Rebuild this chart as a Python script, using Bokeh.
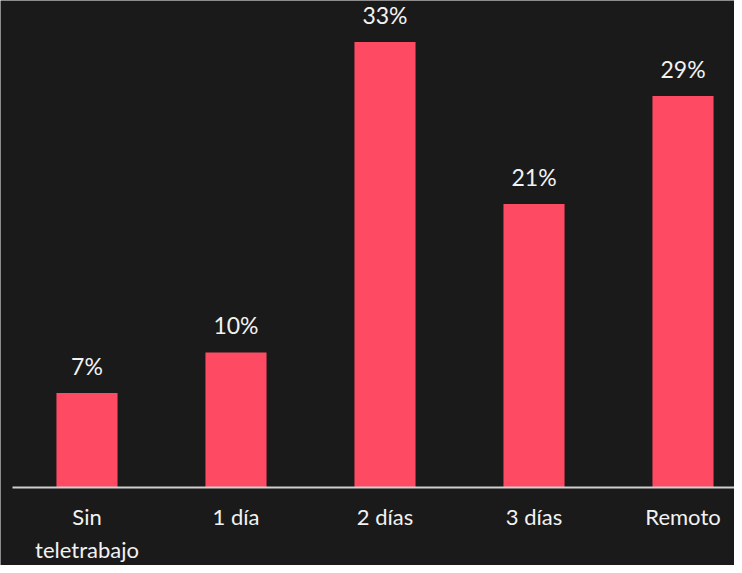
from bokeh.plotting import figure
from bokeh.models import ColumnDataSource, Range1d, Span
from bokeh.embed import file_html
from bokeh.resources import INLINE
from bokeh.core.properties import value

categories = ["Sin\nteletrabajo", "1 día", "2 días", "3 días", "Remoto"]
values = [7, 10, 33, 21, 29]
labels = ["7%", "10%", "33%", "21%", "29%"]

BG = "#1a1a1a"
BAR = "#ff4a64"
FONT = "Lato"

xs = list(range(len(categories)))
src = ColumnDataSource(dict(x=xs, top=values, label=labels, cat=categories, zero=[0] * len(xs)))

p = figure(width=734, height=565, output_backend="svg", toolbar_location=None,
           x_range=Range1d(-0.5805, 4.3456), y_range=Range1d(-5.78, 36.07),
           x_axis_location=None, y_axis_location=None,
           background_fill_color=BG, border_fill_color=BG,
           min_border_left=0, min_border_right=0, min_border_top=0, min_border_bottom=0)
p.outline_line_color = None
p.grid.visible = False

p.vbar(x="x", top="top", width=0.41, bottom=0, source=src, fill_color=BAR, line_color=None)
p.text(x="x", y="top", text="label", source=src, text_align="center", text_baseline="bottom",
       y_offset=-13, text_color="#f2f2f2", text_font_size="23px", text_font=value(FONT))

# category axis line (starting a little right of the left edge) and labels
p.segment(x0=[-0.5], y0=[0], x1=[4.3456], y1=[0], line_color="#cfcfcf", line_width=2)
p.text(x="x", y="zero", text="cat", source=src, text_align="center", text_baseline="top",
       y_offset=16, text_line_height=1.2, text_color="#f2f2f2", text_font_size="22px",
       text_font=value(FONT))

html = file_html(p, INLINE)
html = html.replace("<body>", '<body style="background:%s">' % BG, 1)
open("out.html", "w").write(html)
